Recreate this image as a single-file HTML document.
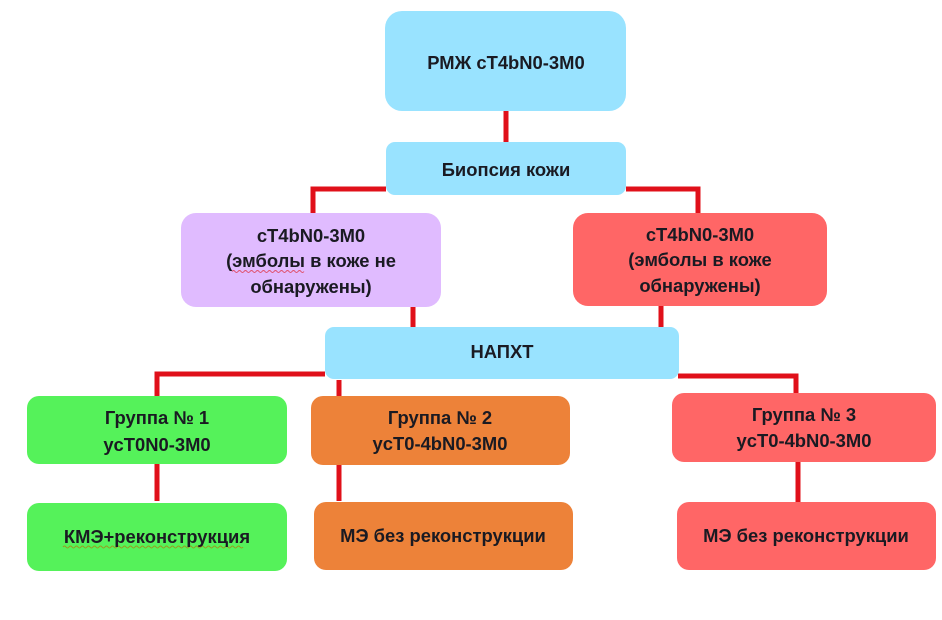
<!DOCTYPE html>
<html><head><meta charset="utf-8"><style>
html,body{margin:0;padding:0;background:#fff}
body{width:942px;height:620px;overflow:hidden;position:relative}
svg{position:absolute;left:0;top:0}
text{font-family:"Liberation Sans",sans-serif;font-weight:bold;font-size:18.4px;fill:#1a1a22;text-anchor:middle}
</style></head><body>
<svg width="942" height="620" viewBox="0 0 942 620">
<g fill="none" stroke="#e0101a" stroke-width="5">
<path d="M506 110V143"/>
<path d="M386 189H313V213"/>
<path d="M626 189H698V213"/>
<path d="M413 306V327"/>
<path d="M661 306V327"/>
<path d="M325 374H157V396"/>
<path d="M339 380V396"/>
<path d="M678 376H796V393"/>
<path d="M157 464V501"/>
<path d="M339 464V501"/>
<path d="M798 462V502"/>
</g>
<rect x="385" y="11" width="241" height="100" rx="17" fill="#99e3ff"/>
<rect x="386" y="142" width="240" height="53" rx="9" fill="#99e3ff"/>
<rect x="181" y="213" width="260" height="94" rx="15" fill="#e0bbff"/>
<rect x="573" y="213" width="254" height="93" rx="15" fill="#ff6666"/>
<rect x="325" y="327" width="354" height="52" rx="9" fill="#99e3ff"/>
<rect x="27" y="396" width="260" height="68" rx="12" fill="#55f25a"/>
<rect x="311" y="396" width="259" height="69" rx="12" fill="#ed8239"/>
<rect x="672" y="393" width="264" height="69" rx="12" fill="#ff6666"/>
<rect x="27" y="503" width="260" height="68" rx="12" fill="#55f25a"/>
<rect x="314" y="502" width="259" height="68" rx="12" fill="#ed8239"/>
<rect x="677" y="502" width="259" height="68" rx="12" fill="#ff6666"/>
<path d="M232 271.500q1.500-2 3 0t3 0t3 0t3 0t3 0t3 0t3 0t3 0t3 0t3 0t3 0t3 0t3 0t3 0t3 0t3 0t3 0t3 0t3 0t3 0t3 0t3 0t3 0t3 0" fill="none" stroke="#e0506a" stroke-width="1"/>
<path d="M63 547q1.500-2 3 0t3 0t3 0t3 0t3 0t3 0t3 0t3 0t3 0t3 0t3 0t3 0t3 0t3 0t3 0t3 0t3 0t3 0t3 0t3 0t3 0t3 0t3 0t3 0t3 0t3 0t3 0t3 0t3 0t3 0t3 0t3 0t3 0t3 0t3 0t3 0t3 0t3 0t3 0t3 0t3 0t3 0t3 0t3 0t3 0t3 0t3 0t3 0t3 0t3 0t3 0t3 0t3 0t3 0t3 0t3 0t3 0t3 0t3 0t3 0" fill="none" stroke="#9a9a20" stroke-width="1"/>
<text x="506" y="69">РМЖ сТ4bN0-3М0</text>
<text x="506" y="176">Биопсия кожи</text>
<text x="311" y="242">сТ4bN0-3М0</text>
<text x="311" y="267">(эмболы в коже не</text>
<text x="311" y="293">обнаружены)</text>
<text x="700" y="241">сТ4bN0-3М0</text>
<text x="700" y="266">(эмболы в коже</text>
<text x="700" y="292">обнаружены)</text>
<text x="502" y="358">НАПХТ</text>
<text x="157" y="424">Группа № 1</text>
<text x="157" y="451">ycT0N0-3M0</text>
<text x="440" y="424">Группа № 2</text>
<text x="440" y="450">ycT0-4bN0-3M0</text>
<text x="804" y="421">Группа № 3</text>
<text x="804" y="447">ycT0-4bN0-3M0</text>
<text x="157" y="543">КМЭ+реконструкция</text>
<text x="443" y="542">МЭ без реконструкции</text>
<text x="806" y="542">МЭ без реконструкции</text>
</svg>
</body></html>
